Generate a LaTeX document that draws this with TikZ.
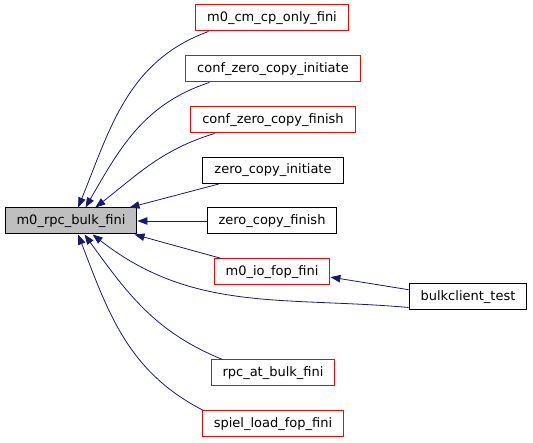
\documentclass[tikz,border=0pt]{standalone}
\usepackage{fontspec}
\setmainfont{DejaVu Sans}
\usetikzlibrary{arrows.meta}
\definecolor{ecolor}{HTML}{191970}
\definecolor{mgray}{HTML}{BFBFBF}

\begin{document}
\begin{tikzpicture}[x=1pt, y=-1pt,
    fn/.style={rectangle, draw=black, fill=white, minimum height=26pt, inner xsep=11.5pt, font=\fontsize{13}{15}\selectfont, line width=1pt},
    ext/.style={fn, draw=red},
    arr/.style={{Triangle[length=10pt, width=7.5pt]}-, draw=ecolor, line width=0.8pt},
  ]
    \useasboundingbox (0,0) rectangle (533,443);
    \node[fn, fill=mgray] (bulk) at (71,221) {m0\_rpc\_bulk\_fini};
    \node[ext] (cponly) at (272,18) {m0\_cm\_cp\_only\_fini};
    \node[ext] (czinit) at (273,69) {conf\_zero\_copy\_initiate};
    \node[ext] (czfin) at (273,120) {conf\_zero\_copy\_finish};
    \node[fn] (zinit) at (273,170.5) {zero\_copy\_initiate};
    \node[fn] (zfin) at (272,221) {zero\_copy\_finish};
    \node[ext] (iofop) at (272,272) {m0\_io\_fop\_fini};
    \node[fn] (bctest) at (468,297) {bulkclient\_test};
    \node[ext] (rpcat) at (273,373) {rpc\_at\_bulk\_fini};
    \node[ext] (spiel) at (273,424) {spiel\_load\_fop\_fini};

    \draw[arr] (bulk.62) to[out=68, in=200] (cponly.192);
    \draw[arr] (bulk.43) to[out=60, in=198] (czinit.192);
    \draw[arr] (bulk.29) to[out=38, in=197] (czfin.193);
    \draw[arr] (bulk.13) -- (zinit.194);
    \draw[arr] (bulk.east) -- (zfin.west);
    \draw[arr] (bulk.-12) -- (iofop.165);
    \draw[arr] (bulk.-32) to[out=-38, in=175] (bctest.190);
    \draw[arr] (bulk.-45) to[out=-54, in=158] (rpcat.165);
    \draw[arr] (bulk.-62) to[out=-69, in=153] (spiel.169);
    \draw[arr] (iofop.-5) -- (bctest.173);
  \end{tikzpicture}
\end{document}
